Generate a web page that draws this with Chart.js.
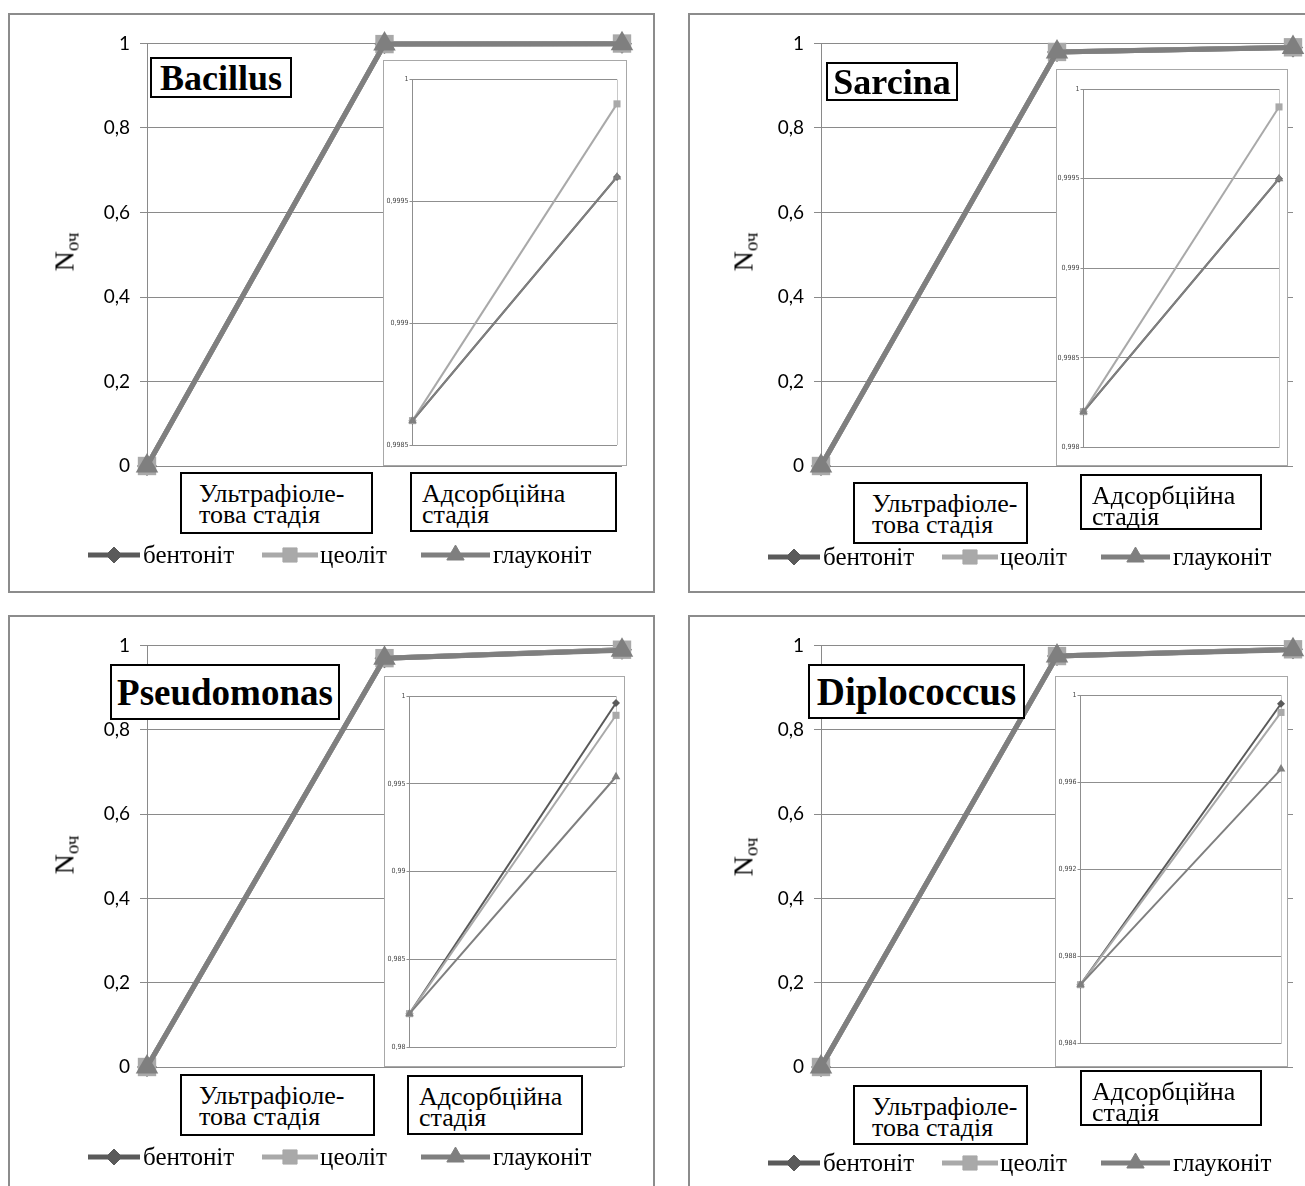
<!DOCTYPE html>
<html>
<head>
<meta charset="utf-8">
<script src="https://cdn.jsdelivr.net/npm/chart.js@4/dist/chart.umd.min.js"></script>
<style>
  html, body { margin: 0; padding: 0; background: #fff; }
  body { position: relative; width: 1305px; height: 1186px; overflow: hidden; font-family: 'Liberation Serif', 'Times New Roman', serif; }
  .frame { position: absolute; box-sizing: border-box; border: 2px solid #8c8c8c; background: #fff; }
  .insetFrame { position: absolute; box-sizing: border-box; border: 1px solid #a8a8a8; background: #fff; }
  canvas { position: absolute; }
  .title { position: absolute; box-sizing: border-box; border: 2px solid #000; background: #fff; font-weight: bold;
           display: flex; align-items: center; justify-content: center; color: #000; white-space: nowrap; }
  .cat { position: absolute; box-sizing: border-box; border: 2px solid #000; background: #fff; color: #000;
         font-size: 26px; line-height: 21px; white-space: nowrap; }
  .ytitle { position: absolute; transform: translate(-50%, -50%) rotate(-90deg); font-size: 28px; color: #000; white-space: nowrap; }
  .ytitle sub { font-size: 19px; vertical-align: -5px; }
</style>
</head>
<body>
<script>
// ---- data ----
const sorbents = ['бентоніт', 'цеоліт', 'глауконіт'];
const mainSteps = ['0', '1', '2'];
const insetSteps = ['1', '2'];
const stageNames = [['Ультрафіоле-', 'това стадія'], ['Адсорбційна', 'стадія']];
const organisms = ['Bacillus', 'Sarcina', 'Pseudomonas', 'Diplococcus'];
const mainTicks = [0, 0.2, 0.4, 0.6, 0.8, 1];

// Bacillus
const bacillusBentonite = [0, 0.9986, 0.9996];
const bacillusZeolite = [0, 0.9986, 0.9999];
const bacillusGlauconite = [0, 0.9986, 0.9996];
const bacillusInsetBentonite = [0.9986, 0.9996];
const bacillusInsetZeolite = [0.9986, 0.9999];
const bacillusInsetGlauconite = [0.9986, 0.9996];
const bacillusInsetTicks = [0.9985, 0.999, 0.9995, 1];

// Sarcina
const sarcinaBentonite = [0, 0.980, 0.9905];
const sarcinaZeolite = [0, 0.980, 0.9910];
const sarcinaGlauconite = [0, 0.980, 0.9905];
const sarcinaInsetBentonite = [0.9982, 0.9995];
const sarcinaInsetZeolite = [0.9982, 0.9999];
const sarcinaInsetGlauconite = [0.9982, 0.9995];
const sarcinaInsetTicks = [0.998, 0.9985, 0.999, 0.9995, 1];

// Pseudomonas
const pseudomonasBentonite = [0, 0.970, 0.990];
const pseudomonasZeolite = [0, 0.970, 0.990];
const pseudomonasGlauconite = [0, 0.970, 0.989];
const pseudomonasInsetBentonite = [0.9819, 0.9996];
const pseudomonasInsetZeolite = [0.9819, 0.9989];
const pseudomonasInsetGlauconite = [0.9819, 0.9954];
const pseudomonasInsetTicks = [0.98, 0.985, 0.99, 0.995, 1];

// Diplococcus
const diplococcusBentonite = [0, 0.975, 0.991];
const diplococcusZeolite = [0, 0.975, 0.991];
const diplococcusGlauconite = [0, 0.975, 0.990];
const diplococcusInsetBentonite = [0.9867, 0.9996];
const diplococcusInsetZeolite = [0.9867, 0.9992];
const diplococcusInsetGlauconite = [0.9867, 0.9966];
const diplococcusInsetTicks = [0.984, 0.988, 0.992, 0.996, 1];

// ---- styles ----
const seriesColors = ['#5a5a5a', '#a9a9a9', '#7f7f7f'];
const seriesMarkers = ['rectRot', 'rect', 'triangle'];
const seriesOrder = [2, 1, 0];
const mainRadius = [10, 13, 13];
const insetRadius = [4, 5, 5];
const legendRadius = [8, 10, 10];

// ---- panel layout ----
const panels = [
  { name: organisms[0], main: [bacillusBentonite, bacillusZeolite, bacillusGlauconite],
    inset: [bacillusInsetBentonite, bacillusInsetZeolite, bacillusInsetGlauconite], insetTicks: bacillusInsetTicks,
    frame: [8, 13, 647, 580], plot: [147, 43.5, 622, 466],
    insetFrame: [383, 60, 244, 406], insetPlot: [412.5, 79.5, 617, 445],
    title: [150, 57, 142, 41, 36], cats: [[180, 472, 193, 62, 17], [410, 472, 207, 60, 10]],
    legendDy: 89, ytitle: [66, 252] },
  { name: organisms[1], main: [sarcinaBentonite, sarcinaZeolite, sarcinaGlauconite],
    inset: [sarcinaInsetBentonite, sarcinaInsetZeolite, sarcinaInsetGlauconite], insetTicks: sarcinaInsetTicks,
    frame: [688, 13, 647, 580], plot: [821, 43.5, 1293, 466],
    insetFrame: [1056, 69, 232, 397], insetPlot: [1083.5, 89, 1279, 447.5],
    title: [826, 62, 132, 39, 36], cats: [[853, 482, 175, 62, 17], [1080, 474, 182, 56, 10]],
    legendDy: 91, ytitle: [745, 252] },
  { name: organisms[2], main: [pseudomonasBentonite, pseudomonasZeolite, pseudomonasGlauconite],
    inset: [pseudomonasInsetBentonite, pseudomonasInsetZeolite, pseudomonasInsetGlauconite], insetTicks: pseudomonasInsetTicks,
    frame: [8, 615, 647, 600], plot: [147, 645.5, 622, 1067],
    insetFrame: [384, 676, 241, 391], insetPlot: [409.5, 696, 616, 1047],
    title: [110, 664, 230, 56, 37], cats: [[180, 1074, 195, 62, 17], [407, 1075, 176, 60, 10]],
    legendDy: 90, ytitle: [66, 855] },
  { name: organisms[3], main: [diplococcusBentonite, diplococcusZeolite, diplococcusGlauconite],
    inset: [diplococcusInsetBentonite, diplococcusInsetZeolite, diplococcusInsetGlauconite], insetTicks: diplococcusInsetTicks,
    frame: [688, 615, 647, 600], plot: [821, 645.5, 1293, 1067],
    insetFrame: [1055, 676, 233, 391], insetPlot: [1080.5, 695, 1281, 1043.5],
    title: [808, 664, 217, 55, 39], cats: [[853, 1085, 175, 60, 17], [1080, 1070, 182, 56, 10]],
    legendDy: 96, ytitle: [745, 857] }
];

// legend item geometry relative to the panel frame
const legendLine = [[80, 132], [254, 310], [413, 482]];
const legendText = [135, 312, 485];

const commaFmt = v => String(v).replace('.', ',');

// legend drawn as line + marker + label, like the series
const sorbentLegend = {
  id: 'sorbentLegend',
  afterDraw(chart, args, opts) {
    const ctx = chart.ctx;
    const y = chart.chartArea.bottom + opts.dy;
    ctx.save();
    chart.data.datasets.forEach((ds, i) => {
      ctx.strokeStyle = ds.borderColor;
      ctx.lineWidth = 5;
      ctx.beginPath();
      ctx.moveTo(legendLine[i][0], y);
      ctx.lineTo(legendLine[i][1], y);
      ctx.stroke();
      ctx.fillStyle = ds.borderColor;
      ctx.lineWidth = 1;
      Chart.helpers.drawPoint(ctx, { pointStyle: ds.pointStyle, radius: legendRadius[i], rotation: 0, borderWidth: 1 },
        (legendLine[i][0] + legendLine[i][1]) / 2, y);
      ctx.fillStyle = '#000';
      ctx.font = '25px "Liberation Serif", serif';
      ctx.textBaseline = 'middle';
      ctx.textAlign = 'left';
      ctx.fillText(ds.label, legendText[i], y + 1);
    });
    ctx.restore();
  }
};

function addCanvas(x, y, w, h) {
  const c = document.createElement('canvas');
  c.width = w; c.height = h;
  c.style.left = x + 'px'; c.style.top = y + 'px';
  c.style.width = w + 'px'; c.style.height = h + 'px';
  document.body.appendChild(c);
  return c;
}
function addDiv(cls, x, y, w, h) {
  const d = document.createElement('div');
  d.className = cls;
  d.style.left = x + 'px'; d.style.top = y + 'px';
  if (w != null) d.style.width = w + 'px';
  if (h != null) d.style.height = h + 'px';
  document.body.appendChild(d);
  return d;
}

panels.forEach(p => {
  const [fx, fy, fw, fh] = p.frame;
  const [pl, pt, pr, pb] = p.plot;
  addDiv('frame', fx, fy, fw, fh);

  // main chart
  const mc = addCanvas(fx, fy, fw, fh);
  new Chart(mc, {
    type: 'line',
    data: {
      labels: mainSteps,
      datasets: p.main.map((vals, i) => ({
        label: sorbents[i], data: vals, order: seriesOrder[i],
        borderColor: seriesColors[i], backgroundColor: seriesColors[i],
        borderWidth: 5, tension: 0, clip: false,
        pointStyle: seriesMarkers[i], pointRadius: mainRadius[i], pointBorderWidth: 0,
        pointBackgroundColor: seriesColors[i], pointBorderColor: seriesColors[i]
      }))
    },
    options: {
      responsive: false, animation: false, devicePixelRatio: 1,
      layout: { padding: { left: 0, top: pt - fy, right: fx + fw - pr, bottom: fy + fh - pb } },
      plugins: { legend: { display: false }, tooltip: { enabled: false }, sorbentLegend: { dy: p.legendDy } },
      scales: {
        x: { type: 'category', offset: false, display: false },
        y: {
          min: 0, max: 1,
          afterBuildTicks: s => { s.ticks = mainTicks.map(v => ({ value: v })); },
          afterFit: s => { s.width = pl - fx; },
          ticks: { callback: v => commaFmt(v), color: '#000', padding: 10,
                   font: { family: 'Lato, "Open Sans", sans-serif', size: 19 } },
          grid: { color: '#8a8a8a', lineWidth: 1, tickLength: 7 },
          border: { display: true, color: '#8a8a8a', width: 1 }
        }
      }
    },
    plugins: [sorbentLegend]
  });

  // inset chart with a zoomed value axis
  const [ix, iy, iw, ih] = p.insetFrame;
  const [ipl, ipt, ipr, ipb] = p.insetPlot;
  addDiv('insetFrame', ix, iy, iw, ih);
  const ic = addCanvas(ix, iy, iw, ih);
  const it = p.insetTicks;
  new Chart(ic, {
    type: 'line',
    data: {
      labels: insetSteps,
      datasets: p.inset.map((vals, i) => ({
        label: sorbents[i], data: vals, order: seriesOrder[i],
        borderColor: seriesColors[i], backgroundColor: seriesColors[i],
        borderWidth: 2, tension: 0, clip: false,
        pointStyle: seriesMarkers[i], pointRadius: insetRadius[i], pointBorderWidth: 0,
        pointBackgroundColor: seriesColors[i]
      }))
    },
    options: {
      responsive: false, animation: false, devicePixelRatio: 1,
      layout: { padding: { left: 0, top: ipt - iy, right: ix + iw - ipr, bottom: iy + ih - ipb } },
      plugins: { legend: { display: false }, tooltip: { enabled: false } },
      scales: {
        x: { type: 'category', offset: false, display: true,
             afterFit: s => { s.height = 0; },
             ticks: { display: false },
             grid: { drawTicks: false, color: c => c.index === 1 ? '#c8c8c8' : 'rgba(0,0,0,0)' },
             border: { display: false } },
        y: {
          min: it[0], max: it[it.length - 1],
          afterBuildTicks: s => { s.ticks = it.map(v => ({ value: v })); },
          afterFit: s => { s.width = ipl - ix; },
          ticks: { callback: v => commaFmt(v), color: '#444', padding: 1,
                   font: { family: '"DejaVu Sans Condensed", "Liberation Sans Narrow", sans-serif', size: 7 } },
          grid: { color: '#8f8f8f', lineWidth: 1, tickLength: 3 },
          border: { display: true, color: '#8f8f8f', width: 1 }
        }
      }
    }
  });

  // title box
  const [tx, ty, tw, th, tfs] = p.title;
  const t = addDiv('title', tx, ty, tw, th);
  t.style.fontSize = tfs + 'px';
  t.textContent = p.name;

  // stage boxes
  p.cats.forEach((c, k) => {
    const d = addDiv('cat', c[0], c[1], c[2], c[3]);
    d.style.paddingLeft = c[4] + 'px';
    d.style.paddingTop = '9px';
    d.innerHTML = stageNames[k].join('<br>');
  });

  // value axis title
  const yt = addDiv('ytitle', p.ytitle[0], p.ytitle[1]);
  yt.innerHTML = 'N<sub>оч</sub>';
});
</script>
</body>
</html>
